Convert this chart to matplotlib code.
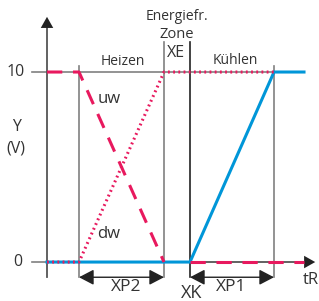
import matplotlib.pyplot as plt

# x positions (scaled units) and y values in V
x_uw = [0, 3.2, 11.7]
y_uw = [10, 10, 0]
x_uw2 = [14.3, 25.7]
y_uw2 = [0, 0]
x_dw = [0, 3.2, 11.7, 22.7]
y_dw = [0, 0, 10, 10]
x_k = [0, 14.3, 22.7, 25.7]
y_k = [0, 0, 10, 10]

red = '#e8195e'
blue = '#0096d8'
grey = '#808080'
txt = '#333333'

plt.rcParams['font.family'] = ['Open Sans', 'DejaVu Sans']

fig = plt.figure(figsize=(3.19, 3.01), dpi=100)
ax = fig.add_axes([0, 0, 1, 1])
ax.set_xlim(-4.7, 27.2)
ax.set_ylim(-2.05, 13.79)
ax.axis('off')

# reference lines
ax.plot([-1.5, 25.7], [10, 10], color=grey, lw=1.2, zorder=1)
ax.plot([-1.5, 0], [0, 0], color=grey, lw=1.2, zorder=1)
for xv, ytop, c in [(3.2, 10.3, grey), (11.7, 11.6, grey), (14.3, 11.6, '#222222'), (22.7, 10.3, grey)]:
    ax.plot([xv, xv], [-0.8, ytop], color=c, lw=1.2, zorder=1)

# axes with arrows
ax.plot([0, 0], [-0.8, 12.5], color='#555555', lw=1.3, zorder=1)
ax.annotate('', xy=(0, 13.05), xytext=(0, 12.0),
            arrowprops=dict(arrowstyle='-|>,head_length=0.8,head_width=0.45', color='#222222', lw=0))
ax.plot([0, 26.2], [0, 0], color='#555555', lw=1.3, zorder=1)
ax.annotate('', xy=(27.1, 0), xytext=(26.0, 0),
            arrowprops=dict(arrowstyle='-|>,head_length=0.8,head_width=0.45', color='#222222', lw=0))

# curves
ax.plot(x_k, y_k, color=blue, lw=2.2, zorder=2)
ax.plot(x_uw, y_uw, color=red, lw=2.2, dashes=(5, 3.5), zorder=3)
ax.plot(x_uw2, y_uw2, color=red, lw=2.2, dashes=(5, 3.5), zorder=3)
ax.plot(x_dw, y_dw, color=red, lw=2.2, dashes=(0.6, 1.1), zorder=3)

# range arrows
for x0, x1 in [(3.2, 11.7), (14.3, 22.7)]:
    ax.annotate('', xy=(x0, -0.8), xytext=(x1, -0.8),
                arrowprops=dict(arrowstyle='<|-|>,head_length=0.9,head_width=0.47',
                                color='#222222', lw=1.0, shrinkA=0, shrinkB=0))

fs = 10
ax.text(-2.2, 10, '10', ha='right', va='center', fontsize=11.5, color=txt)
ax.text(-2.5, 0, '0', ha='right', va='center', fontsize=11.5, color=txt)
ax.text(-3.1, 7.1, 'Y', ha='center', va='center', fontsize=11.5, color=txt)
ax.text(-3.1, 6.0, '(V)', ha='center', va='center', fontsize=11.5, color=txt)
ax.text(7.6, 10.55, 'Heizen', ha='center', va='center', fontsize=fs, color=txt)
ax.text(18.8, 10.6, 'Kühlen', ha='center', va='center', fontsize=fs, color=txt)
ax.text(13.0, 12.9, 'Energiefr.', ha='center', va='center', fontsize=fs, color=txt)
ax.text(13.0, 11.95, 'Zone', ha='center', va='center', fontsize=10.5, color=txt)
ax.text(12.9, 11.0, 'XE', ha='center', va='center', fontsize=11.5, color=txt)
ax.text(6.2, 8.6, 'uw', ha='center', va='center', fontsize=12, color=txt)
ax.text(6.2, 1.5, 'dw', ha='center', va='center', fontsize=12, color=txt)
ax.text(7.9, -1.32, 'XP2', ha='center', va='center', fontsize=12.5, color=txt)
ax.text(18.4, -1.32, 'XP1', ha='center', va='center', fontsize=12.5, color=txt)
ax.text(14.5, -1.63, 'XK', ha='center', va='center', fontsize=13, color=txt)
ax.text(26.4, -0.95, 'tR', ha='center', va='center', fontsize=12, color=txt)

fig.savefig('out.png', dpi=100)
